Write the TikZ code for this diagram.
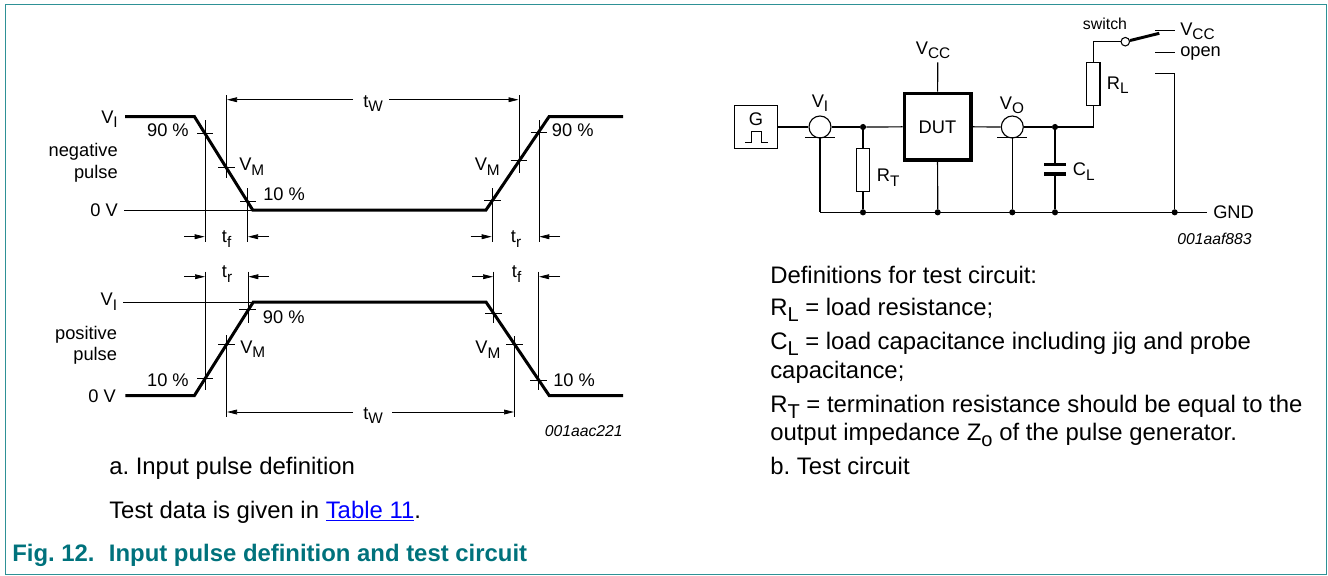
\documentclass[tikz,border=0pt]{standalone}
\usepackage{fontspec}
\setmainfont{Liberation Sans}
\usetikzlibrary{arrows.meta}
\definecolor{nxpteal}{HTML}{00727C}
\definecolor{framecol}{HTML}{2E9196}
\newcommand{\dn}[1]{\raisebox{-0.5ex}{\scalebox{.84}{#1}}}
\frenchspacing

\begin{document}
\begin{tikzpicture}[x=0.75pt,y=-0.75pt,
    lbl/.style={font=\fontsize{13.7}{15}\selectfont,inner sep=0pt,anchor=base west},
    body text/.style={font=\fontsize{17.92}{20}\selectfont,inner sep=0pt,anchor=base west},
    code text/.style={font=\fontsize{11.8}{14}\selectfont\itshape,inner sep=0pt,anchor=base west},
    wave line/.style={line width=2.25pt,line join=miter},
    thin line/.style={line width=0.55pt},
    dim line/.style={line width=0.55pt,-{Triangle[length=7.5pt,width=3.6pt]}},
    wire/.style={line width=0.9pt},
    main dot/.style={circle,fill=black,inner sep=0pt,minimum size=4.6pt},
    res box/.style={rectangle,draw,line width=0.8pt,fill=white,inner sep=0pt,minimum width=10pt,minimum height=32.5pt},
    probe node/.style={circle,draw,line width=0.85pt,fill=white,inner sep=0pt,minimum size=16.5pt}]

  \useasboundingbox (0,0) rectangle (1328,575);
  \draw[framecol,line width=0.75pt] (5,4) rectangle (1326,574);

  % negative pulse
  \draw[wave line] (125,116.7) -- (194.5,116.7) -- (252.7,210) -- (486,210) -- (549,116.7) -- (623,116.7);
  \draw[thin line] (124,210) -- (252,210);
  \draw[thin line] (205,120) -- (205,242) (197,133.7) -- (213,133.7);
  \draw[thin line] (226.5,95) -- (226.5,178) (218,167) -- (235,167);
  \draw[thin line] (247.7,188) -- (247.7,242) (240,201.7) -- (256,201.7);
  \draw[thin line] (492,188) -- (492,242) (484,200) -- (500.7,200);
  \draw[thin line] (519,95) -- (519,172.7) (510.7,160) -- (527,160);
  \draw[thin line] (539,120) -- (539,242) (530.7,132) -- (546.7,132);
  \draw[dim line] (353,99.7) -- (227,99.7);
  \draw[dim line] (389,99.7) -- (518.5,99.7);
  \draw[dim line] (184,236.7) -- (204.7,236.7);
  \draw[dim line] (269,236.7) -- (248,236.7);
  \draw[dim line] (470.7,236.7) -- (491.7,236.7);
  \draw[dim line] (560,236.7) -- (539.3,236.7);

  \node[lbl,anchor=base east] (viA) at (118,123) {V\dn{I}};
  \node[lbl,anchor=base east] (pA) at (189,136) {90 \%};
  \node[lbl,anchor=base east] (negA) at (118,156) {negative};
  \node[lbl,anchor=base east] (negB) at (118,178) {pulse};
  \node[lbl,anchor=base east] (zeroA) at (118,216.7) {0 V};
  \node[lbl] (vmA) at (239,170.7) {V\dn{M}};
  \node[lbl] (pB) at (263,200.7) {10 \%};
  \node[lbl] (twA) at (363,107) {t\dn{W}};
  \node[lbl] (tfA) at (221.7,242.7) {t\dn{f}};
  \node[lbl,anchor=base east] (vmB) at (500,170.7) {V\dn{M}};
  \node[lbl] (pC) at (551.7,136) {90 \%};
  \node[lbl] (trA) at (510.7,242.7) {t\dn{r}};

  % positive pulse
  \draw[wave line] (125.3,395.7) -- (194.3,395.7) -- (253.3,302) -- (486,302) -- (549.3,395.7) -- (623,395.7);
  \draw[thin line] (123,302) -- (253,302);
  \draw[thin line] (205.3,271.7) -- (205.3,390) (197,378.7) -- (213,378.7);
  \draw[thin line] (248,271.7) -- (248,323) (239,309.3) -- (256,309.3);
  \draw[thin line] (226.7,335) -- (226.7,416.7) (218,344) -- (235,344);
  \draw[thin line] (493.3,271.7) -- (493.3,323.3) (485,313) -- (501.7,313);
  \draw[thin line] (514.3,336) -- (514.3,416.7) (506,344.7) -- (522.7,344.7);
  \draw[thin line] (538.7,271.7) -- (538.7,390) (530,380) -- (546.7,380);
  \draw[dim line] (353,412) -- (227,412);
  \draw[dim line] (392,412) -- (514,412);
  \draw[dim line] (184,276.7) -- (205,276.7);
  \draw[dim line] (269,276.7) -- (248.3,276.7);
  \draw[dim line] (472,276.7) -- (493,276.7);
  \draw[dim line] (560,276.7) -- (539,276.7);

  \node[lbl] (trB) at (221.7,277.7) {t\dn{r}};
  \node[lbl,anchor=base east] (viB) at (117.3,305.7) {V\dn{I}};
  \node[lbl] (pD) at (262.7,323) {90 \%};
  \node[lbl,anchor=base east] (posA) at (117.3,339) {positive};
  \node[lbl,anchor=base east] (posB) at (117.3,360.7) {pulse};
  \node[lbl,anchor=base east] (pE) at (189,386) {10 \%};
  \node[lbl,anchor=base east] (zeroB) at (116,402.7) {0 V};
  \node[lbl] (vmC) at (240,353) {V\dn{M}};
  \node[lbl] (tfB) at (511.7,277.7) {t\dn{f}};
  \node[lbl,anchor=base east] (vmD) at (500.7,353.3) {V\dn{M}};
  \node[lbl] (pF) at (553,386) {10 \%};
  \node[lbl] (twB) at (363,419) {t\dn{W}};
  \node[code text,anchor=base east] (codeA) at (623,436) {001aac221};

  % test circuit
  \node[rectangle,draw,line width=0.8pt,inner sep=0pt,minimum width=32pt,minimum height=32pt] (gen) at (756.2,127) {};
  \node[lbl,anchor=base] (gtxt) at (756,125) {G};
  \draw[line width=0.7pt] (745,142.3) -- (751,142.3) -- (751,131.7) -- (761.7,131.7) -- (761.7,142.3) -- (767.7,142.3);
  \node[probe node] (vi) at (820,127) {};
  \node[probe node] (vo) at (1012.3,127) {};
  \node[rectangle,draw,line width=2.5pt,inner sep=0pt,minimum width=50pt,minimum height=50pt] (dut) at (937.5,126.7) {};
  \node[lbl,anchor=base] (duttxt) at (937.5,133) {DUT};
  \node[main dot] (j1) at (863,127) {};
  \node[main dot] (j2) at (1055,127) {};
  \node[res box] (rt) at (863,169.7) {};
  \node[res box] (rl) at (1093.3,84.2) {};
  \node[main dot] (g1) at (863,212.3) {};
  \node[main dot] (g2) at (937.7,212.3) {};
  \node[main dot] (g3) at (1012.3,212.3) {};
  \node[main dot] (g4) at (1055,212.3) {};
  \node[main dot] (g5) at (1174.7,212.3) {};
  \node[circle,draw,line width=0.8pt,fill=white,inner sep=0pt,minimum size=6.4pt] (sw) at (1125.3,41.7) {};
  \coordinate (vccp) at (937.7,62.3);
  \coordinate (gndl) at (820,212.3);
  \coordinate (gndr) at (1206.7,212.3);
  \coordinate (vip) at (820,137.7);
  \coordinate (vop) at (1012.3,137.7);
  \coordinate (rlb) at (1093.3,127);
  \coordinate (rlt) at (1093.3,41.7);
  \coordinate (blade) at (1159.3,33.3);
  \coordinate (capa) at (1055,164.7);
  \coordinate (capb) at (1055,174);

  \path[wire]
    (gen) edge (vi)
    (vi) edge (j1)
    (j1) edge (dut)
    (dut) edge (vo)
    (j1) edge (rt)
    (rt) edge (g1)
    (vccp) edge (dut)
    (dut) edge (g2)
    (vo) edge (j2)
    (vip) edge (gndl)
    (vop) edge (g3)
    (j2) edge (capa)
    (capb) edge (g4)
    (gndl) edge (gndr)
    (rl) edge (rlt)
    (rlt) edge (sw);
  \draw[wire] (j2) -- (rlb) -- (rl);
  \draw[line width=2.2pt] (sw) -- (blade);
  \draw[wire] ([xshift=-11.25pt]vip) -- ([xshift=11.25pt]vip);
  \draw[wire] ([xshift=-11.25pt]vop) -- ([xshift=11.25pt]vop);
  \draw[line width=2.6pt] ([xshift=-8pt]capa) -- ([xshift=8pt]capa);
  \draw[line width=2.6pt] ([xshift=-8pt]capb) -- ([xshift=8pt]capb);
  \draw[wire] (1155,30.7) -- (1174.7,30.7);
  \draw[wire] (1155,52.3) -- (1174.7,52.3);
  \draw[wire] (1155,73.7) -- (1174.7,73.7) -- (g5);

  \node[lbl] (vcca) at (915.7,54) {V\dn{CC}};
  \node[lbl,anchor=base] (vil) at (820,107) {V\dn{I}};
  \node[lbl] (rtl) at (876.7,181.7) {R\dn{T}};
  \node[lbl,anchor=base] (vol) at (1012,109) {V\dn{O}};
  \node[lbl] (cll) at (1072.7,175.7) {C\dn{L}};
  \node[lbl] (rll) at (1106.7,89) {R\dn{L}};
  \node[lbl,font=\fontsize{11.9}{14}\selectfont] (swl) at (1082.7,29) {switch};
  \node[lbl] (vccb) at (1180,35) {V\dn{CC}};
  \node[lbl] (openl) at (1180,56.7) {open};
  \node[lbl] (gndt) at (1213,218) {GND};
  \node[code text] (codeB) at (1177,244) {001aaf883};

  % text under the pictures
  \node[body text] (capA) at (109,474) {a. Input pulse definition};
  \node[body text] (capB) at (109,518) {Test data is given in \textcolor{blue}{\underline{Table 11}}.};
  \node[body text,font=\fontsize{17.92}{20}\selectfont\bfseries,text=nxpteal] (figt) at (12,561) {Fig. 12.\hspace{0.6em}Input pulse definition and test circuit};
  \node[body text] (defA) at (770,283) {Definitions for test circuit:};
  \node[body text] (defB) at (770,315) {R\dn{L} = load resistance;};
  \node[body text] (defC) at (770,349) {C\dn{L} = load capacitance including jig and probe};
  \node[body text] (defD) at (770,378) {capacitance;};
  \node[body text] (defE) at (770,412) {R\dn{T} = termination resistance should be equal to the};
  \node[body text] (defF) at (770,440) {output impedance Z\dn{o} of the pulse generator.};
  \node[body text] (defG) at (770,474) {b. Test circuit};
\end{tikzpicture}
\end{document}
